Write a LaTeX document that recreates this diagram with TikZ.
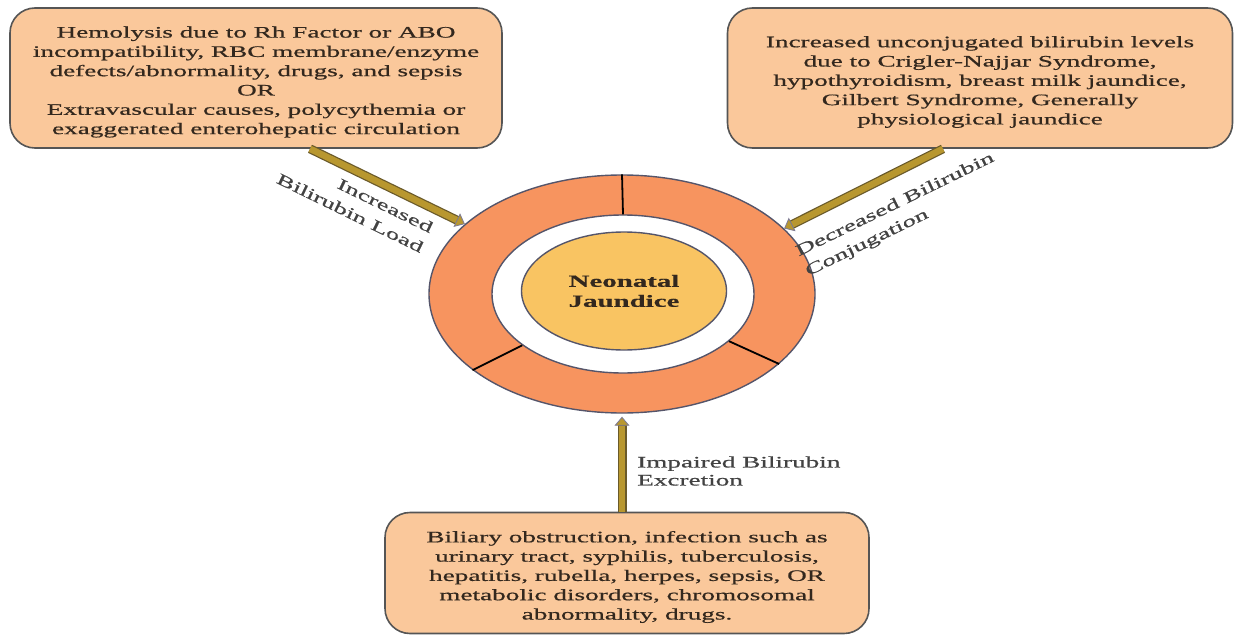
\documentclass[tikz,border=0pt]{standalone}
\usepackage{fontspec}
\setmainfont[FakeStretch=1.7,FakeBold=0.6]{Liberation Serif}
\usetikzlibrary{shapes.geometric,arrows.meta,calc}
\definecolor{boxfill}{HTML}{FAC89B}
\definecolor{boxedge}{HTML}{555555}
\definecolor{ringfill}{HTML}{F7945F}
\definecolor{corefill}{HTML}{F9C462}
\definecolor{ringedge}{HTML}{55556A}
\definecolor{txt}{HTML}{33281E}
\definecolor{lbl}{HTML}{424242}
\definecolor{arrowgold}{HTML}{B8972F}
\definecolor{arrowedge}{HTML}{6A5A2A}
\definecolor{tipedge}{HTML}{7C7A96}
\begin{document}
\begin{tikzpicture}[x=1pt,y=-1pt,
  causebox/.style={draw=boxedge, line width=1.6pt, fill=boxfill, rounded corners=25pt, inner sep=0pt},
  boxtext/.style={align=center, text=txt, inner sep=0pt,
    font=\fontsize{16pt}{19.3pt}\selectfont},
  pathlabel/.style={text=lbl, inner sep=0pt, font=\fontsize{16pt}{22pt}\selectfont},
  arrowouter/.style={line width=9pt, draw=arrowedge, shorten >=8pt},
  arrowinner/.style={line width=6.5pt, draw=arrowgold,
    -{Triangle[width=15pt,length=9pt,fill=arrowgold,color=tipedge,line width=0.8pt]}},
  divider/.style={line width=1.8pt, draw=black}]
\useasboundingbox (0,0) rectangle (1239,639);

\node[causebox, minimum width=492pt, minimum height=140pt] (b1) at (256,78) {};
\node[boxtext] (b1t) at ($(b1.center)+(0,4)$)
  {Hemolysis due to Rh Factor or ABO\\incompatibility, RBC membrane/enzyme\\defects/abnormality, drugs, and sepsis\\OR\\Extravascular causes, polycythemia or\\exaggerated enterohepatic circulation};
\node[causebox, minimum width=505pt, minimum height=140pt] (b2) at (980,78) {};
\node[boxtext] (b2t) at ($(b2.center)+(0,4)$)
  {Increased unconjugated bilirubin levels\\due to Crigler-Najjar Syndrome,\\hypothyroidism, breast milk jaundice,\\Gilbert Syndrome, Generally\\physiological jaundice};
\node[causebox, minimum width=484pt, minimum height=121pt] (b3) at (627,573) {};
\node[boxtext] (b3t) at ($(b3.center)+(0,4)$)
  {Biliary obstruction, infection such as\\urinary tract, syphilis, tuberculosis,\\hepatitis, rubella, herpes, sepsis, OR\\metabolic disorders, chromosomal\\abnormality, drugs.};

\node[ellipse, draw=ringedge, line width=1.4pt, fill=ringfill, minimum width=386pt, minimum height=238pt, inner sep=0pt] (ring) at (622,294) {};
\node[ellipse, draw=ringedge, line width=1.4pt, fill=white, minimum width=262pt, minimum height=158pt, inner sep=0pt] (hole) at (623,294) {};
\node[ellipse, draw=ringedge, line width=1.4pt, fill=corefill, minimum width=205pt, minimum height=118pt, inner sep=0pt, align=center, text=txt,
  font=\fontsize{17pt}{20pt}\selectfont\bfseries] (nj) at (624,291) {Neonatal\\Jaundice};

\draw[divider] (hole.90) -- (ring.90);
\draw[divider] (hole.207) -- (ring.207);
\draw[divider] (hole.336) -- (ring.336);

\coordinate (s1) at ($(b1.south)+(54,0)$);
\coordinate (s2) at ($(b2.south)+(-37,0)$);
\coordinate (s3) at (ring.south |- b3.north);
\draw[arrowouter] (s1) -- (ring.156);
\draw[arrowinner] (s1) -- (ring.156);
\draw[arrowouter] (s2) -- (ring.22);
\draw[arrowinner] (s2) -- (ring.22);
\draw[arrowouter] (s3) -- ($(ring.south)+(0,3)$);
\draw[arrowinner] (s3) -- ($(ring.south)+(0,3)$);

\node[pathlabel, rotate=-26, align=right] (l1) at (355,203) {Increased\\Bilirubin Load};
\node[pathlabel, rotate=26, align=left] (l2) at (900,215) {Decreased Bilirubin\\Conjugation};
\node[pathlabel, align=left, anchor=west, font=\fontsize{16pt}{18pt}\selectfont] (l3) at (637,471) {Impaired Bilirubin\\Excretion};
\end{tikzpicture}
\end{document}
